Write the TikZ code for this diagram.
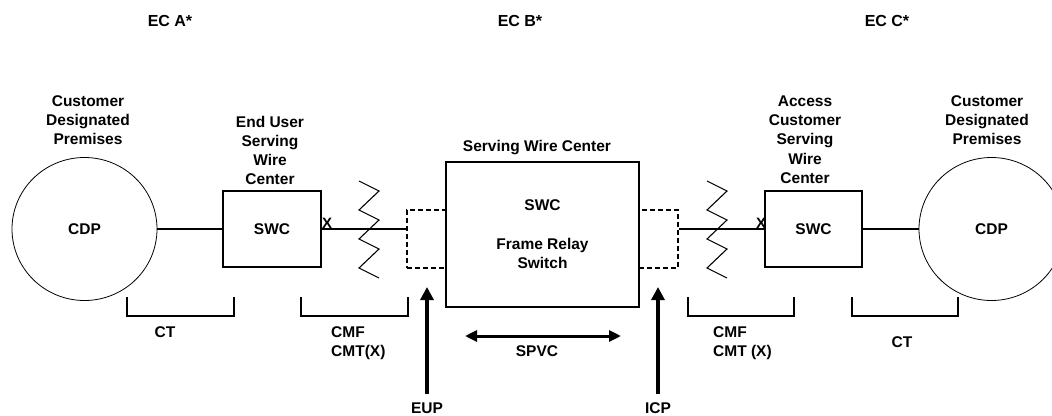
\documentclass[tikz,border=0pt]{standalone}
\usepackage{fontspec}
\setmainfont{Liberation Sans}
\usetikzlibrary{shapes.geometric,arrows.meta}
\tikzstyle{none}=[inner sep=0pt]
\tikzstyle{lbl}=[inner sep=0pt,align=center,font=\fontsize{15.5}{19.3}\selectfont\bfseries]
\tikzstyle{ec}=[inner sep=0pt,font=\fontsize{16}{18}\selectfont\bfseries]
\tikzstyle{xmark}=[inner sep=0pt,font=\fontsize{15}{17}\selectfont\bfseries]
\tikzstyle{site}=[ellipse,draw=black,line width=0.8pt,minimum width=145pt,minimum height=143pt,lbl]
\tikzstyle{swc}=[rectangle,draw=black,line width=1.1pt,lbl]
\tikzstyle{port}=[rectangle,draw=black,line width=1.7pt,dash pattern=on 5pt off 3pt]
\tikzstyle{link}=[line width=1.1pt]
\tikzstyle{bigarrow}=[line width=3.2pt,-{Triangle[width=13pt,length=13pt]}]
\tikzstyle{spvc}=[line width=3pt,{Triangle[width=11pt,length=12pt]}-{Triangle[width=11pt,length=12pt]}]

\begin{document}
\begin{tikzpicture}[x=1pt,y=-1pt]
	\useasboundingbox (0,0) rectangle (1052,415);
	% companies
		\node [style=ec] (eca) at (170,21) {EC A*};
		\node [style=ec] (ecb) at (520,21) {EC B*};
		\node [style=ec] (ecc) at (887,21) {EC C*};
	% premises and wire centers
		\node [style=site] (cdpA) at (84.5,229) {CDP};
		\node [style=site] (cdpC) at (991.5,229) {CDP};
		\node [style=swc,minimum width=98pt,minimum height=76pt] (swcA) at (272,229) {SWC};
		\node [style=swc,minimum width=97pt,minimum height=76pt] (swcC) at (813.5,229) {SWC};
		\node [style=swc,minimum width=193pt,minimum height=145pt] (swcB) at (542.5,234.5) {SWC\\[19.3pt]Frame Relay\\Switch};
		\node [style=port,minimum width=39pt,minimum height=58pt] (portA) at (426.5,239) {};
		\node [style=port,minimum width=39pt,minimum height=58pt] (portC) at (658.5,239) {};
	% titles
		\node [style=lbl] (premA) at (88,120) {Customer\\Designated\\Premises};
		\node [style=lbl] (premC) at (987,120) {Customer\\Designated\\Premises};
		\node [style=lbl] (euswc) at (270,150.5) {End User\\Serving\\Wire\\Center};
		\node [style=lbl] (acswc) at (805,139.5) {Access\\Customer\\Serving\\Wire\\Center};
		\node [style=lbl] (swcBlbl) at (537,148) {Serving Wire Center};
	% lines
		\draw [style=link] (cdpA) -- (swcA);
		\draw [style=link] (swcA.east) -- (swcA.east -| portA.west);
		\draw [style=link] (portC.east |- swcC.west) -- (swcC.west);
		\draw [style=link] (swcC) -- (cdpC);
		\node [style=xmark] (xA) at (327,223) {X};
		\node [style=xmark] (xC) at (761,223) {X};
	% zigzags
		\coordinate (zigA) at (359,181);
		\coordinate (zigC) at (707,181);
		\draw [style=link] (zigA) -- ++(20,10) -- ++(-20,19) -- ++(20,10) -- ++(-20,19) -- ++(20,10) -- ++(-20,19) -- ++(20,10);
		\draw [style=link] (zigC) -- ++(20,10) -- ++(-20,19) -- ++(20,10) -- ++(-20,19) -- ++(20,10) -- ++(-20,19) -- ++(20,10);
	% brackets
		\draw [style=link] (127,297) |- (234,316) -- (234,297);
		\draw [style=link] (301,297) |- (408,316) -- (408,297);
		\draw [style=link] (688,297) |- (794,316) -- (794,297);
		\draw [style=link] (852,297) |- (958,316) -- (958,297);
		\node [style=lbl] (ctA) at (165,332) {CT};
		\node [style=lbl,anchor=west,align=left] (cmfA) at (331,343.5) {CMF\\CMT(X)};
		\node [style=lbl,anchor=west,align=left] (cmfC) at (713,343.5) {CMF\\CMT (X)};
		\node [style=lbl] (ctC) at (902,342) {CT};
	% points of interface
		\node [style=lbl] (eup) at (427,408) {EUP};
		\node [style=lbl] (icp) at (658,408) {ICP};
		\coordinate (eupTip) at (427,287);
		\coordinate (icpTip) at (658,287);
		\draw [style=bigarrow,shorten <=8pt] (eup.north) -- (eupTip);
		\draw [style=bigarrow,shorten <=8pt] (icp.north) -- (icpTip);
		\coordinate (spvcL) at (465,336);
		\coordinate (spvcR) at (621,336);
		\draw [style=spvc] (spvcL) -- (spvcR);
		\node [style=lbl] (spvcLbl) at (537,351) {SPVC};
\end{tikzpicture}
\end{document}
